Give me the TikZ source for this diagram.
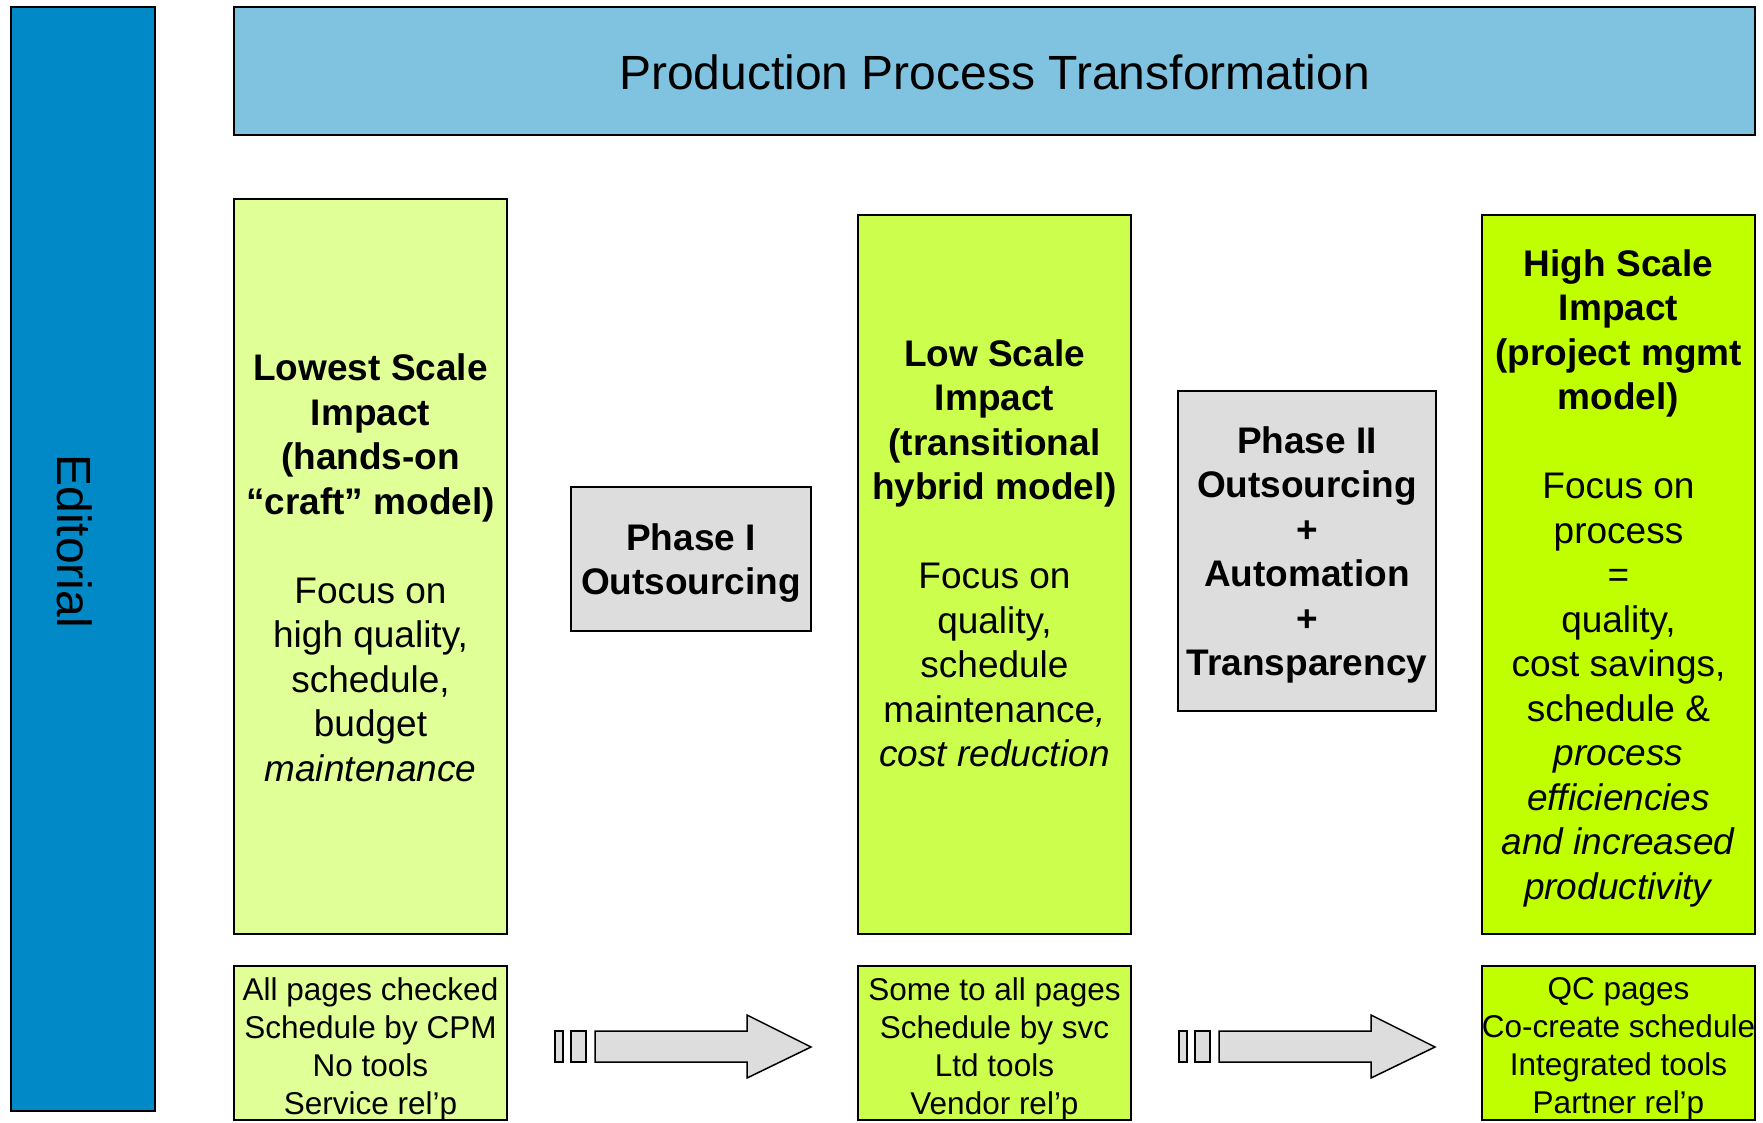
\documentclass[tikz,border=0pt]{standalone}
\usepackage{fontspec}
\setmainfont{Liberation Sans}
\definecolor{edblue}{RGB}{0,137,198}
\definecolor{titleblue}{RGB}{128,195,224}
\definecolor{gone}{RGB}{224,255,150}
\definecolor{gtwo}{RGB}{204,255,77}
\definecolor{gthree}{RGB}{191,255,0}
\definecolor{grayb}{RGB}{221,221,221}
\begin{document}
\begin{tikzpicture}[x=1pt,y=-1pt,
  box/.style={draw=black,line width=1.8pt,inner sep=0pt},
  bigtext/.style={font=\fontsize{37}{44.5}\selectfont,align=center,inner sep=0pt},
  smalltext/.style={font=\fontsize{31.5}{38}\selectfont,align=center,inner sep=0pt},
  arr/.style={draw=black,line width=1.5pt,fill=grayb,line join=miter},
  blockarrow/.pic={
    \path[arr] (0,-16) rectangle (8,15);
    \path[arr] (16,-16) rectangle (31,15);
    \path[arr] (40,-16) -- (192,-16) -- (192,-32) -- (256,0) -- (192,31) -- (192,15) -- (40,15) -- cycle;
  }]
\useasboundingbox (0,0) rectangle (1763,1122);

% left editorial bar
\node[box,fill=edblue,minimum width=144pt,minimum height=1104pt] (ed) at (83,559) {};
\node[rotate=-90,inner sep=0pt,font=\fontsize{48}{56}\selectfont] (edtext) at (74.5,541) {Editorial};

% title
\node[box,fill=titleblue,minimum width=1521pt,minimum height=128pt] (title) at (994.5,71) {};
\node[inner sep=0pt,font=\fontsize{48}{56}\selectfont] (titletext) at (994.5,72) {Production Process Transformation};

% main columns
\node[box,fill=gone,minimum width=273pt,minimum height=735pt] (c1) at (370.5,566.5) {};
\node[box,fill=gtwo,minimum width=273pt,minimum height=719pt] (c2) at (994.5,574.5) {};
\node[box,fill=gthree,minimum width=273pt,minimum height=719pt] (c3) at (1618.5,574.5) {};

\node[bigtext] (c1text) at (370.5,568) {\textbf{Lowest Scale}\\\textbf{Impact}\\\textbf{(hands-on}\\\textbf{“craft” model)}\\[44.5pt]Focus on\\high quality,\\schedule,\\budget\\\textit{maintenance}};
\node[bigtext] (c2text) at (994.5,553.5) {\textbf{Low Scale}\\\textbf{Impact}\\\textbf{(transitional}\\\textbf{hybrid model)}\\[44.5pt]Focus on\\quality,\\schedule\\maintenance\textit{,}\\\textit{cost reduction}};
\node[bigtext] (c3text) at (1618.5,578) {\textbf{High Scale}\\\textbf{Impact}\\\textbf{(project mgmt}\\\textbf{model)}\\[44.5pt]Focus on\\process\\=\\quality,\\cost savings,\\schedule \&\\\textit{process}\\\textit{efficiencies}\\\textit{and increased}\\\textit{productivity}};

% phase boxes
\node[box,fill=grayb,minimum width=240pt,minimum height=144pt] (p1) at (691,559) {};
\node[bigtext] (p1text) at (691,563) {\textbf{Phase I}\\\textbf{Outsourcing}};
\node[box,fill=grayb,minimum width=258pt,minimum height=320pt] (p2) at (1307,551) {};
\node[bigtext] (p2text) at (1307,555) {\textbf{Phase II}\\\textbf{Outsourcing}\\\textbf{+}\\\textbf{Automation}\\\textbf{+}\\\textbf{Transparency}};

% bottom boxes
\node[box,fill=gone,minimum width=273pt,minimum height=154pt] (b1) at (370.5,1043) {};
\node[box,fill=gtwo,minimum width=273pt,minimum height=154pt] (b2) at (994.5,1043) {};
\node[box,fill=gthree,minimum width=273pt,minimum height=154pt] (b3) at (1618.5,1043) {};
\node[smalltext] (b1text) at (370.5,1049.5) {All pages checked\\Schedule by CPM\\No tools\\Service rel’p};
\node[smalltext] (b2text) at (994.5,1049.5) {Some to all pages\\Schedule by svc\\Ltd tools\\Vendor rel’p};
\node[smalltext] (b3text) at (1618.5,1048.5) {QC pages\\Co-create schedule\\Integrated tools\\Partner rel’p};

% block arrows
\pic (arrowone) at (555,1047) {blockarrow};
\pic (arrowtwo) at (1179,1047) {blockarrow};
\end{tikzpicture}
\end{document}
